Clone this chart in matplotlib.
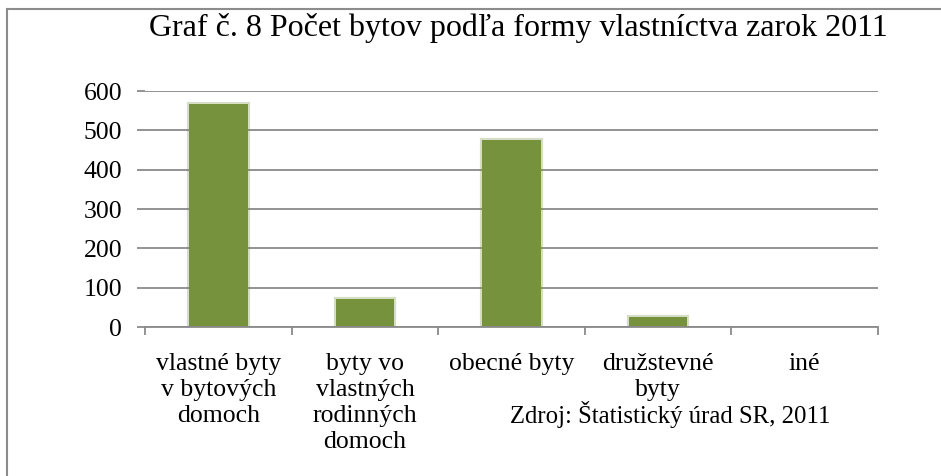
import matplotlib
matplotlib.use("Agg")
import matplotlib.pyplot as plt
from matplotlib import patheffects as pe
from matplotlib.lines import Line2D

serif = ["Liberation Serif", "DejaVu Serif"]
plt.rcParams["font.family"] = serif

# data
categories = ["vlastné byty\nv bytových\ndomoch",
              "byty vo\nvlastných\nrodinných\ndomoch",
              "obecné byty",
              "družstevné\nbyty",
              "iné"]
values = [567, 71, 476, 25, 0]
yticks = [0, 100, 200, 300, 400, 500, 600]

title = "Graf č. 8 Počet bytov podľa formy vlastníctva zarok 2011"
source = "Zdroj: Štatistický úrad SR, 2011"

W, H = 941, 476
fig = plt.figure(figsize=(W / 100, H / 100), dpi=100, facecolor="white")

# frame around the chart (only left and top visible in the crop)
fig.add_artist(Line2D([7 / W, 7 / W], [0, 1 - 9 / H], color="#8c8c8c", lw=1.5))
fig.add_artist(Line2D([7 / W, 1], [1 - 9 / H, 1 - 9 / H], color="#8c8c8c", lw=1.5))

ax = fig.add_axes([145 / W, 1 - 327 / H, 733 / W, 236 / H])

grid_c = "#8a8a8a"
x = range(len(values))
bars = ax.bar(x, values, width=0.4, color="#77923c", zorder=3)
for b, v in zip(bars, values):
    if v > 0:
        # soft glow round the bars
        b.set_path_effects([pe.withStroke(linewidth=3, foreground="#77923c", alpha=0.3), pe.Normal()])

ax.set_xlim(-0.5, len(values) - 0.5)
ax.set_ylim(0, 600)

ax.set_yticks(yticks)
ax.yaxis.grid(True, color=grid_c, lw=1.3)
ax.set_axisbelow(True)

for s in ["top", "right", "left"]:
    ax.spines[s].set_visible(False)
ax.spines["bottom"].set_color(grid_c)
ax.spines["bottom"].set_linewidth(1.3)
ax.spines["bottom"].set_zorder(4)

ax.tick_params(axis="y", length=5.8, width=1.3, color=grid_c, pad=10.5)
plt.setp(ax.get_yticklabels(), family=serif, fontsize=18.5)

# boundary ticks on x axis, labels at category centres
ax.set_xticks([i - 0.5 for i in range(len(values) + 1)])
ax.set_xticklabels([])
ax.tick_params(axis="x", which="major", length=5.8, width=1.3, color=grid_c, direction="out")
ax.set_xticks(list(x), minor=True)
ax.set_xticklabels(categories, minor=True, linespacing=1.22, va="top")
ax.tick_params(axis="x", which="minor", length=0, pad=19)
plt.setp(ax.get_xticklabels(minor=True), family=serif, fontsize=18.5)

fig.text(518 / W, 1 - 36 / H, title, ha="center", va="baseline", fontsize=23, family=serif)
fig.text(670 / W, 1 - 415 / H, source, ha="center", va="center", fontsize=17.8, family=serif)

fig.savefig("out.png", dpi=100, facecolor="white")
